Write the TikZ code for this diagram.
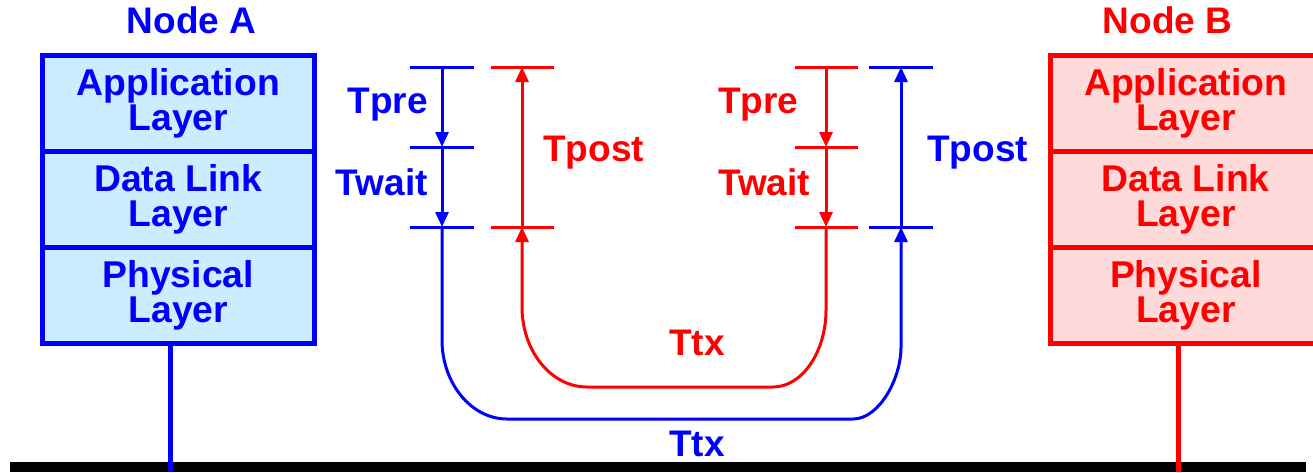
\documentclass[tikz,border=0pt]{standalone}
\usepackage{fontspec}
\setmainfont{Liberation Sans}
\usetikzlibrary{arrows.meta,calc}
\definecolor{pblue}{RGB}{0,0,255}
\definecolor{pred}{RGB}{255,0,0}
\definecolor{lblue}{RGB}{204,236,255}
\definecolor{lred}{RGB}{255,218,218}
\begin{document}
\begin{tikzpicture}[x=1pt,y=-1pt,
  lbl/.style={font=\fontsize{37}{34}\selectfont\bfseries, inner sep=0pt},
  cell/.style={line width=5pt, minimum width=271.5pt, minimum height=96pt,
    inner sep=0pt, align=center, font=\fontsize{37.3}{34.5}\selectfont\bfseries},
  cellA/.style={cell, draw=pblue, fill=lblue, text=pblue},
  cellB/.style={cell, draw=pred, fill=lred, text=pred},
  stem/.style={line width=5pt},
  tickmark/.style={line width=3pt},
  dimline/.style={line width=3pt, -{Triangle[length=15pt,width=13pt]}},
]
\useasboundingbox (0,0) rectangle (1313,472);
\clip (0,0) rectangle (1313,472);

% bus
\fill[black] (10,462) rectangle (1306,472);
\coordinate (busA) at (170,472);
\coordinate (busB) at (1178,472);

% Node A
\node[lbl, text=pblue, anchor=base] (titleA) at (191.5,33) {Node A};
\node[cellA] (A1) at (178.25,103.5) {Application\\Layer};
\node[cellA] (A2) at (178.25,199.5) {Data Link\\Layer};
\node[cellA] (A3) at (178.25,295.5) {Physical\\Layer};
\draw[stem, pblue] (A3.south -| busA) -- (busA);

% Node B
\node[lbl, text=pred, anchor=base] (titleB) at (1167.5,33) {Node B};
\node[cellB] (B1) at (1185.75,103.5) {Application\\Layer};
\node[cellB] (B2) at (1185.75,199.5) {Data Link\\Layer};
\node[cellB] (B3) at (1185.75,295.5) {Physical\\Layer};
\draw[stem, pred] (B3.south -| busB) -- (busB);

% tick coordinates
\coordinate (bL1) at (442,67);  \coordinate (bL2) at (442,147);  \coordinate (bL3) at (442,227);
\coordinate (rL1) at (522,67);  \coordinate (rL3) at (522,227);
\coordinate (rR1) at (826,67);  \coordinate (rR2) at (826,147);  \coordinate (rR3) at (826,227);
\coordinate (bR1) at (901,67);  \coordinate (bR3) at (901,227);

% ticks
\foreach \c in {bL1,bL2,bL3,bR1,bR3}
  \draw[tickmark, pblue] ($(\c)+(-32,0)$) -- ($(\c)+(32,0)$);
\foreach \c in {rL1,rL3,rR1,rR2,rR3}
  \draw[tickmark, pred] ($(\c)+(-31.5,0)$) -- ($(\c)+(31.5,0)$);

% blue dimensions (Node A)
\draw[dimline, pblue] (bL1) -- (bL2);
\draw[dimline, pblue] (bL2) -- (bL3);
\draw[dimline, pblue] (bL3) -- (442,340) .. controls (442,383) and (471,419) .. (507,419)
  -- (853,419) .. controls (879,419) and (901,379) .. (901,347) -- (bR3);
\draw[dimline, pblue] (bR3) -- (bR1);

% red dimensions (Node B)
\draw[dimline, pred] (rR1) -- (rR2);
\draw[dimline, pred] (rR2) -- (rR3);
\draw[dimline, pred] (rR3) -- (826,310) .. controls (826,352) and (802,387) .. (773,387)
  -- (587,387) .. controls (551,387) and (522,351) .. (522,307) -- (rL3);
\draw[dimline, pred] (rL3) -- (rL1);

% labels
\node[lbl, text=pblue, anchor=base east] (tpreA) at (428,113) {Tpre};
\node[lbl, text=pblue, anchor=base east] (twaitA) at (428,195) {Twait};
\node[lbl, text=pred, anchor=base west] (tpostB) at (543,161) {Tpost};
\node[lbl, text=pred, anchor=base west] (tpreB) at (718,113) {Tpre};
\node[lbl, text=pred, anchor=base west] (twaitB) at (718,195) {Twait};
\node[lbl, text=pblue, anchor=base west] (tpostA) at (927,161) {Tpost};
\node[lbl, text=pred, anchor=base] (ttxB) at (697,355) {Ttx};
\node[lbl, text=pblue, anchor=base] (ttxA) at (697,456) {Ttx};
\end{tikzpicture}
\end{document}
